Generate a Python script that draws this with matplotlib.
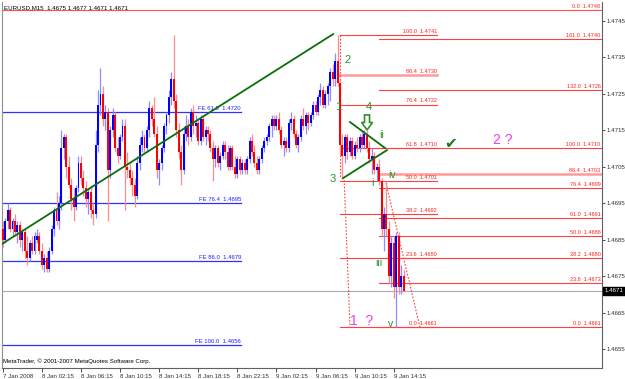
import numpy as np
import matplotlib
matplotlib.use("Agg")
import matplotlib.pyplot as plt
from matplotlib import transforms
from matplotlib.patches import Polygon

plt.rcParams['font.family'] = ['Liberation Sans', 'DejaVu Sans']

# ---------------- data (prices in 1e-4 units, e.g. 14688 -> 1.4688) ----------------
opens = [14688,14685,14690,14693,14688,14690,14687,14689,14685,14687,14682,14680,14684,14682,14685,14686,
         14682,14678,14680,14677,14682,14688,14693,14690,14695,14710,14713,14705,14700,14696,14694,14699,
         14706,14702,14699,14696,14698,14693,14692,14711,14722,14725,14718,14720,14704,14715,14719,14710,
         14708,14713,14716,14705,14704,14702,14700,14697,14706,14711,14713,14710,14715,14721,14718,14714,
         14704,14706,14710,14716,14719,14724,14729,14723,14715,14709,14704,14714,14716,14713,14720,14716,
         14717,14712,14718,14713,14715,14714,14710,14707,14710,14706,14708,14711,14709,14705,14710,14705,
         14703,14707,14704,14706,14704,14707,14712,14709,14706,14704,14707,14710,14712,14713,14716,14718,
         14716,14718,14715,14711,14712,14710,14717,14718,14714,14711,14713,14718,14716,14719,14717,14719,
         14722,14720,14724,14726,14722,14725,14727,14731,14729,14734,14728,14711,14708,14713,14709,14712,
         14708,14711,14710,14713,14711,14714,14710,14707,14708,14704,14705,14701,14688,14692,14688,14675,
         14684,14672,14686,14672,14675]
highs = [14690,14691,14695,14694,14691,14692,14690,14690,14688,14688,14686,14685,14686,14687,14688,14687,
         14684,14681,14682,14683,14689,14694,14698,14697,14715,14714,14714,14708,14702,14699,14700,14708,
         14708,14704,14701,14699,14700,14695,14715,14726,14732,14727,14722,14721,14716,14721,14720,14713,
         14714,14718,14718,14709,14706,14704,14702,14708,14713,14715,14714,14716,14723,14722,14724,14716,
         14707,14711,14717,14720,14726,14731,14741,14725,14717,14711,14716,14719,14718,14721,14722,14719,
         14718,14719,14719,14716,14716,14715,14712,14711,14711,14709,14712,14712,14711,14711,14711,14708,
         14708,14708,14707,14707,14708,14713,14714,14711,14708,14708,14711,14713,14714,14717,14719,14719,
         14719,14720,14716,14713,14713,14718,14720,14719,14715,14714,14719,14721,14720,14720,14720,14723,
         14723,14725,14728,14727,14726,14728,14732,14733,14736,14741,14729,14714,14714,14714,14713,14713,
         14712,14713,14714,14715,14715,14715,14712,14710,14709,14706,14707,14702,14694,14701,14690,14686,
         14686,14687,14687,14678,14677]
lows = [14683,14684,14688,14687,14686,14686,14684,14683,14682,14680,14678,14679,14681,14681,14684,14681,
        14677,14676,14676,14676,14681,14686,14689,14688,14693,14707,14702,14699,14693,14690,14693,14698,
        14700,14697,14694,14692,14691,14689,14691,14709,14719,14716,14715,14690,14702,14713,14709,14706,
        14707,14712,14693,14702,14700,14697,14694,14696,14704,14709,14709,14709,14713,14716,14713,14702,
        14700,14704,14709,14714,14717,14722,14721,14713,14707,14700,14703,14712,14711,14712,14714,14713,
        14711,14711,14712,14711,14712,14709,14701,14705,14705,14704,14707,14707,14704,14704,14704,14702,
        14702,14703,14703,14703,14703,14706,14708,14705,14703,14703,14706,14709,14711,14712,14713,14715,
        14715,14714,14710,14708,14709,14709,14715,14713,14710,14709,14712,14715,14714,14715,14716,14718,
        14719,14719,14722,14721,14721,14722,14723,14727,14727,14727,14708,14702,14706,14707,14708,14707,
        14707,14709,14709,14710,14710,14709,14706,14703,14703,14701,14700,14686,14682,14686,14673,14672,
        14669,14661,14670,14670,14671]
closes = [14685,14690,14693,14688,14690,14687,14689,14685,14687,14682,14680,14684,14682,14686,14686,14682,
          14678,14680,14677,14682,14688,14693,14690,14695,14710,14713,14705,14700,14696,14694,14699,14706,
          14702,14699,14696,14698,14693,14692,14711,14722,14725,14718,14720,14704,14715,14719,14710,14708,
          14713,14716,14705,14704,14702,14700,14697,14706,14711,14713,14710,14715,14721,14718,14714,14704,
          14706,14710,14716,14719,14724,14729,14723,14715,14709,14704,14714,14716,14713,14720,14716,14717,
          14712,14718,14713,14715,14714,14710,14707,14710,14706,14708,14711,14709,14705,14710,14705,14703,
          14707,14704,14706,14704,14707,14712,14709,14706,14704,14707,14710,14712,14713,14716,14718,14716,
          14718,14715,14711,14712,14710,14717,14718,14714,14711,14713,14718,14716,14719,14717,14719,14722,
          14720,14724,14726,14722,14725,14727,14731,14729,14734,14728,14711,14708,14713,14709,14712,14708,
          14711,14710,14713,14711,14714,14710,14707,14708,14704,14705,14701,14688,14692,14688,14675,14684,
          14672,14686,14672,14675,14671]

x_tick_bars = [0, 16, 32, 48, 64, 80, 96, 112, 128, 144, 160]
x_tick_labels = ["7 Jan 2008", "8 Jan 02:15", "8 Jan 06:15", "8 Jan 10:15", "8 Jan 14:15",
                 "8 Jan 18:15", "8 Jan 22:15", "9 Jan 02:15", "9 Jan 06:15", "9 Jan 10:15", "9 Jan 14:15"]
y_ticks = [1.4655, 1.4665, 1.4675, 1.4685, 1.4695, 1.4705, 1.4715, 1.4725, 1.4735, 1.4745]

fe_levels = ["61.8", "76.4", "86.0", "100.0"]
fe_prices = [1.4720, 1.4695, 1.4679, 1.4656]

fibA_levels = ["100.0", "86.4", "76.4", "61.8", "50.0", "38.2", "23.6", "0.0"]
fibA_prices = [1.4741, 1.4730, 1.4722, 1.4710, 1.4701, 1.4692, 1.4680, 1.4661]

fibB_levels = ["161.0", "132.0", "100.0", "86.4", "76.4", "61.0", "50.0", "38.2", "23.6", "0.0"]
fibB_prices = [1.4740, 1.4726, 1.4710, 1.4703, 1.4699, 1.4691, 1.4686, 1.4680, 1.4673, 1.4661]

top_level_price = 1.4748
last_price = 1.4671

# ---------------- figure ----------------
W, H = 625, 379
fig = plt.figure(figsize=(W / 100, H / 100), dpi=100)
ax = fig.add_axes([2 / W, 1 - 368 / H, 600 / W, 366 / H])
ax.set_xlim(-0.3, 245.2)
ax.set_ylim(1.46498, 1.47501)

o = np.array(opens) * 1e-4
h = np.array(highs) * 1e-4
l = np.array(lows) * 1e-4
c = np.array(closes) * 1e-4
idx = np.arange(len(o))
up = c >= o

# reference lines (drawn first, beneath candles)
ax.axhline(last_price, color="#a8a8b8", lw=0.8, zorder=1)
ax.axhline(top_level_price, color="#ff5050", lw=0.8, zorder=1)

# FE blue levels
fe_end = 97.5
for lev, pr in zip(fe_levels, fe_prices):
    ax.plot([-0.3, fe_end], [pr, pr], color="#3030ff", lw=0.9, zorder=1)
    ax.text(fe_end, pr + 0.00003, f"FE {lev}  {pr:.4f}", color="#2020ff", fontsize=4.3,
            ha="right", va="bottom")

# Fib set A
a_start, a_end = 138.0, 177.7
for lev, pr in zip(fibA_levels, fibA_prices):
    if lev == "86.4":
        ax.plot([a_start, a_end], [pr, pr], color="#ff9a9a", lw=1.8, zorder=1)
    else:
        ax.plot([a_start, a_end], [pr, pr], color="#ff4040", lw=0.8, zorder=1)
    ax.text(a_end, pr + 0.00003, f"{lev}  {pr:.4f}", color="#ff2020", fontsize=4.0,
            ha="right", va="bottom")

# Fib set B
b_start, b_end = 154.0, 245.2
for lev, pr in zip(fibB_levels, fibB_prices):
    if lev == "86.4":
        ax.plot([b_start, b_end], [pr, pr], color="#ff9a9a", lw=1.8, zorder=1)
    else:
        ax.plot([b_start, b_end], [pr, pr], color="#ff4040", lw=0.8, zorder=1)
    ax.text(244.6, pr + 0.00003, f"{lev}  {pr:.4f}", color="#ff2020", fontsize=4.0,
            ha="right", va="bottom")
ax.text(244.6, top_level_price + 0.00003, f"0.0  {top_level_price:.4f}", color="#ff2020",
        fontsize=4.0, ha="right", va="bottom")

# dotted anchor lines
ax.plot([138.0, 138.0], [1.4741, 1.47021], color="#ff4040", lw=0.8, ls=(0, (1.5, 1.5)), zorder=1)
ax.plot([139.7, 142.1], [1.47013, 1.4661], color="#ff4040", lw=0.8, ls=(0, (1.5, 1.5)), zorder=1)
ax.plot([156.8, 170.7], [1.47005, 1.4661], color="#ff4040", lw=0.8, ls=(0, (1.5, 1.5)), zorder=1)

# candles
wick_col = np.where(up, "#8c8cff", "#ff8c8c")
ax.vlines(idx, l, h, colors=wick_col, lw=0.9, zorder=2)
body_b = np.minimum(o, c)
body_h = np.maximum(np.abs(c - o), 0.00003)
ax.bar(idx, body_h, bottom=body_b, width=0.8, color=np.where(up, "#0000ff", "#ff0000"),
       linewidth=0, zorder=3)

# green trend/triangle lines
ax.plot([-0.3, 135.2], [1.46838, 1.47413], color="#0a6e0a", lw=1.3, zorder=4)
ax.plot([142.1, 156.4], [1.47172, 1.47101], color="#0a6e0a", lw=1.3, zorder=4)
ax.plot([139.2, 157.2], [1.47018, 1.47095], color="#0a6e0a", lw=1.3, zorder=4)

# wave labels
g = "#2f8f2f"
for txt, xi, pr, fs in [("2", 140.9, 1.47342, 8), ("1", 137.2, 1.47213, 8),
                        ("3", 135.1, 1.47016, 8), ("4", 149.9, 1.47213, 8),
                        ("ii", 155.2, 1.47136, 7.5), ("i", 151.1, 1.47005, 7.5),
                        ("iv", 159.3, 1.47027, 7.5), ("iii", 154.0, 1.46786, 7.5),
                        ("v", 158.9, 1.46619, 7.5)]:
    ax.text(xi, pr, txt, color=g, fontsize=fs, ha="center", va="center", zorder=5)

# hollow down arrow (annotation shape) near wave 4
ax_c, ay_c = 149.06, 1.47171      # centre of arrow
sx, sy = 1 / 2.444, 1 / 36500     # one screen pixel in data units
arrow_px = [(-2.5, -7.5), (2.5, -7.5), (2.5, 0), (5.5, 0), (0, 7.5), (-5.5, 0), (-2.5, 0)]
arrow_pts = [(ax_c + px * sx, ay_c - py * sy) for px, py in arrow_px]
ax.add_patch(Polygon(arrow_pts, closed=True, fill=False, edgecolor=g, lw=1.2, zorder=5))

ax.text(183.4, 1.47114, "\u2714", color="#1f7a1f", fontsize=11, ha="center", va="center",
        family="DejaVu Sans", zorder=5)
ax.text(204.7, 1.47123, "2 ?", color="#ee3cee", fontsize=10, ha="center", va="center", zorder=5)
ax.text(147.0, 1.46627, "1  ?", color="#ee3cee", fontsize=10, ha="center", va="center", zorder=5)

# header / footer text
ax.text(0.004, 0.99, "EURUSD,M15  1.4675 1.4677 1.4671 1.4671", transform=ax.transAxes,
        fontsize=4.4, ha="left", va="top")
ax.text(0.002, 0.01, "MetaTrader, \u00a9 2001-2007 MetaQuotes Software Corp.", transform=ax.transAxes,
        fontsize=4.4, ha="left", va="bottom")

# axes styling
ax.spines["top"].set_visible(False)
ax.spines["left"].set_color("#909090")
ax.spines["right"].set_color("#606060")
ax.spines["bottom"].set_color("#606060")
for s in ["left", "right", "bottom"]:
    ax.spines[s].set_linewidth(0.8)

ax.yaxis.tick_right()
ax.set_yticks(y_ticks)
ax.set_yticklabels([f"{v:.4f}" for v in y_ticks])
ax.tick_params(axis="y", direction="out", length=2, width=0.6, pad=1.5, labelsize=4.4, colors="#303030")
ax.set_xticks(x_tick_bars)
ax.set_xticklabels(x_tick_labels)
ax.tick_params(axis="x", direction="out", length=3, width=0.6, pad=1.5, labelsize=4.4, colors="#303030")
for lab in ax.get_xticklabels():
    lab.set_ha("left")

# current price box
trans = transforms.blended_transform_factory(ax.transAxes, ax.transData)
ax.text(1.004, last_price, f"{last_price:.4f}", transform=trans, color="white", fontsize=4.4,
        ha="left", va="center", bbox=dict(boxstyle="square,pad=0.25", fc="black", ec="black"),
        zorder=6, clip_on=False)

fig.savefig("out.png", dpi=100, facecolor="white")
